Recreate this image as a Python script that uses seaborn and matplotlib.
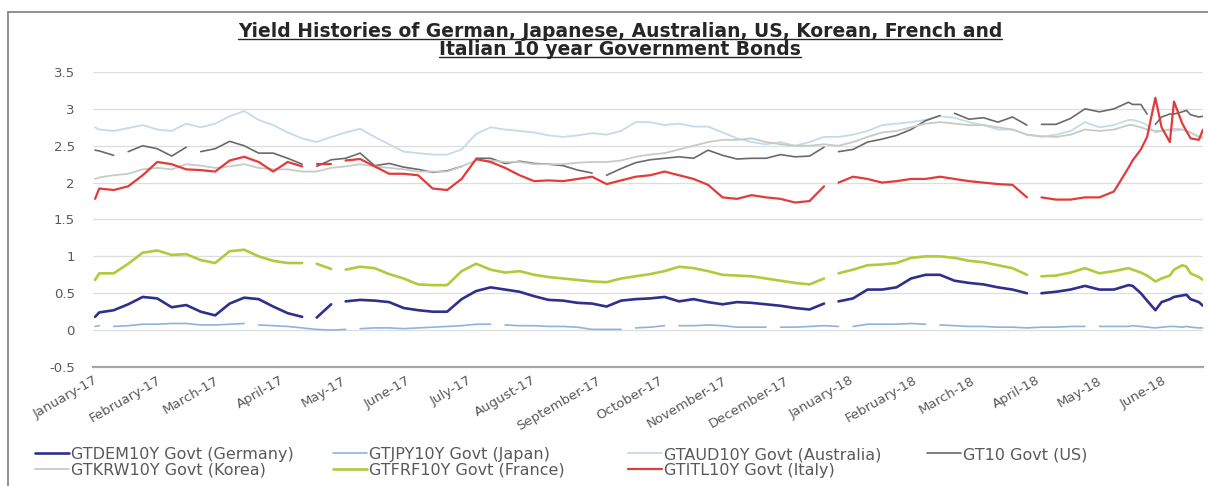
import numpy as np
import pandas as pd
import matplotlib
matplotlib.use("Agg")
import matplotlib.pyplot as plt
import matplotlib.dates as mdates
from matplotlib.lines import Line2D
import seaborn as sns

# ---------------------------------------------------------------------------
# Observation dates: first trading day, weekly Wednesdays, then a denser
# sampling through the late-May / June 2018 sell-off.
# ---------------------------------------------------------------------------
first_date = ["2017-01-02"]
weekly_dates = pd.date_range("2017-01-04", "2018-05-16", freq="W-WED")
late_dates = ["2018-05-18", "2018-05-22", "2018-05-25", "2018-05-29",
              "2018-06-01", "2018-06-05", "2018-06-07", "2018-06-11",
              "2018-06-13", "2018-06-15", "2018-06-19", "2018-06-21"]
dates = pd.DatetimeIndex(first_date).append(weekly_dates).append(pd.DatetimeIndex(late_dates))

# 10-year government bond yields (%), one value per date above.
germany = [0.18, 0.24, 0.27, 0.35, 0.45,
           0.43, 0.31, 0.34, 0.25,
           0.20, 0.36, 0.44, 0.42, 0.32,
           0.23, 0.18, 0.17, 0.35,
           0.39, 0.41, 0.40, 0.38, 0.30,
           0.27, 0.25, 0.25, 0.42,
           0.53, 0.58, 0.55, 0.52,
           0.46, 0.41, 0.40, 0.37, 0.36,
           0.32, 0.40, 0.42, 0.43,
           0.45, 0.39, 0.42, 0.38,
           0.35, 0.38, 0.37, 0.35, 0.33,
           0.30, 0.28, 0.36, 0.39,
           0.43, 0.55, 0.55, 0.58, 0.70,
           0.75, 0.75, 0.67, 0.64,
           0.62, 0.58, 0.55, 0.50,
           0.50, 0.52, 0.55, 0.60,
           0.55, 0.55, 0.61, 0.60, 0.50, 0.40, 0.27,
           0.38, 0.42, 0.45, 0.47, 0.48, 0.42, 0.38, 0.33]

japan = [0.05, 0.06, 0.05, 0.06, 0.08,
         0.08, 0.09, 0.09, 0.07,
         0.07, 0.08, 0.09, 0.07, 0.06,
         0.05, 0.03, 0.01, 0.00,
         0.01, 0.02, 0.03, 0.03, 0.02,
         0.03, 0.04, 0.05, 0.06,
         0.08, 0.08, 0.07, 0.06,
         0.06, 0.05, 0.05, 0.04, 0.01,
         0.01, 0.01, 0.03, 0.04,
         0.06, 0.06, 0.06, 0.07,
         0.06, 0.04, 0.04, 0.04, 0.04,
         0.04, 0.05, 0.06, 0.05,
         0.05, 0.08, 0.08, 0.08, 0.09,
         0.08, 0.07, 0.06, 0.05,
         0.05, 0.04, 0.04, 0.03,
         0.04, 0.04, 0.05, 0.05,
         0.05, 0.05, 0.05, 0.06, 0.05, 0.04, 0.03,
         0.04, 0.05, 0.05, 0.04, 0.05, 0.04, 0.03, 0.03]

australia = [2.75, 2.72, 2.70, 2.74, 2.78,
             2.72, 2.70, 2.80, 2.75,
             2.80, 2.90, 2.97, 2.85, 2.78,
             2.68, 2.60, 2.55, 2.62,
             2.68, 2.73, 2.62, 2.52, 2.42,
             2.40, 2.38, 2.38, 2.45,
             2.66, 2.75, 2.72, 2.70,
             2.68, 2.64, 2.62, 2.64, 2.67,
             2.65, 2.70, 2.82, 2.82,
             2.78, 2.80, 2.76, 2.76,
             2.68, 2.60, 2.55, 2.52, 2.55,
             2.50, 2.55, 2.62, 2.62,
             2.65, 2.70, 2.78, 2.80, 2.82,
             2.85, 2.90, 2.88, 2.82,
             2.78, 2.72, 2.72, 2.65,
             2.62, 2.65, 2.70, 2.82,
             2.75, 2.78, 2.85, 2.85, 2.82, 2.78, 2.68,
             2.70, 2.72, 2.70, 2.72, 2.70, 2.68, 2.62, 2.63]

us = [2.44, 2.43, 2.37, 2.42, 2.50,
      2.46, 2.36, 2.48, 2.42,
      2.46, 2.56, 2.50, 2.40, 2.40,
      2.33, 2.25, 2.22, 2.31,
      2.33, 2.40, 2.23, 2.26, 2.21,
      2.18, 2.14, 2.16, 2.22,
      2.33, 2.33, 2.26, 2.29,
      2.26, 2.25, 2.23, 2.17, 2.13,
      2.10, 2.19, 2.27, 2.31,
      2.33, 2.35, 2.33, 2.44,
      2.37, 2.32, 2.33, 2.33, 2.38,
      2.35, 2.36, 2.48, 2.42,
      2.45, 2.55, 2.59, 2.64, 2.72,
      2.84, 2.91, 2.94, 2.86,
      2.88, 2.82, 2.89, 2.78,
      2.79, 2.79, 2.87, 3.00,
      2.96, 3.00, 3.09, 3.06, 3.06, 2.93, 2.79,
      2.89, 2.93, 2.93, 2.96, 2.98, 2.92, 2.89, 2.90]

korea = [2.05, 2.07, 2.10, 2.12, 2.18,
         2.20, 2.18, 2.25, 2.23,
         2.20, 2.22, 2.25, 2.20, 2.18,
         2.18, 2.15, 2.15, 2.20,
         2.22, 2.25, 2.22, 2.20, 2.18,
         2.15, 2.15, 2.15, 2.22,
         2.30, 2.30, 2.28, 2.28,
         2.25, 2.25, 2.25, 2.27, 2.28,
         2.28, 2.30, 2.35, 2.38,
         2.40, 2.45, 2.50, 2.55,
         2.58, 2.58, 2.60, 2.55, 2.52,
         2.50, 2.50, 2.52, 2.50,
         2.55, 2.62, 2.68, 2.70, 2.75,
         2.80, 2.82, 2.80, 2.78,
         2.78, 2.75, 2.72, 2.65,
         2.63, 2.62, 2.65, 2.72,
         2.70, 2.72, 2.78, 2.78, 2.75, 2.72, 2.70,
         2.70, 2.72, 2.73, 2.72, 2.70, 2.68, 2.62, 2.60]

france = [0.68, 0.77, 0.77, 0.90, 1.05,
          1.08, 1.02, 1.03, 0.95,
          0.91, 1.07, 1.09, 1.00, 0.94,
          0.91, 0.91, 0.90, 0.83,
          0.82, 0.86, 0.84, 0.76, 0.70,
          0.62, 0.61, 0.61, 0.80,
          0.90, 0.82, 0.78, 0.80,
          0.75, 0.72, 0.70, 0.68, 0.66,
          0.65, 0.70, 0.73, 0.76,
          0.80, 0.86, 0.84, 0.80,
          0.75, 0.74, 0.73, 0.70, 0.67,
          0.64, 0.62, 0.70, 0.77,
          0.82, 0.88, 0.89, 0.91, 0.98,
          1.00, 1.00, 0.98, 0.94,
          0.92, 0.88, 0.84, 0.75,
          0.73, 0.74, 0.78, 0.84,
          0.77, 0.80, 0.84, 0.82, 0.78, 0.74, 0.66,
          0.70, 0.74, 0.82, 0.88, 0.86, 0.77, 0.72, 0.68]

italy = [1.78, 1.92, 1.90, 1.95, 2.10,
         2.28, 2.25, 2.18, 2.17,
         2.15, 2.30, 2.35, 2.28, 2.15,
         2.28, 2.22, 2.25, 2.25,
         2.30, 2.32, 2.22, 2.12, 2.12,
         2.10, 1.92, 1.90, 2.05,
         2.32, 2.28, 2.20, 2.10,
         2.02, 2.03, 2.02, 2.05, 2.08,
         1.98, 2.03, 2.08, 2.10,
         2.15, 2.10, 2.05, 1.97,
         1.80, 1.78, 1.83, 1.80, 1.78,
         1.73, 1.75, 1.95, 2.00,
         2.08, 2.05, 2.00, 2.02, 2.05,
         2.05, 2.08, 2.05, 2.02,
         2.00, 1.98, 1.97, 1.80,
         1.80, 1.77, 1.77, 1.80,
         1.80, 1.88, 2.20, 2.30, 2.45, 2.62, 3.15,
         2.75, 2.55, 3.10, 2.80, 2.70, 2.60, 2.58, 2.72]

# Market holidays: no fixing, so the line is broken there.
euro_holidays = ["2017-04-14", "2017-05-01", "2017-12-25", "2018-03-30"]
us_holidays = ["2017-01-16", "2017-02-20", "2017-04-14", "2017-07-04",
               "2017-09-04", "2017-12-25", "2018-02-19", "2018-03-30",
               "2018-05-28"]
japan_holidays = ["2017-01-09", "2017-03-20", "2017-05-04", "2017-07-17",
                  "2017-09-18", "2017-10-09", "2017-11-23", "2018-01-01",
                  "2018-02-12", "2018-04-30"]

series_names = ["GTDEM10Y Govt (Germany)", "GTJPY10Y Govt (Japan)",
                "GTAUD10Y Govt (Australia)", "GT10 Govt (US)",
                "GTKRW10Y Govt (Korea)", "GTFRF10Y Govt (France)",
                "GTITL10Y Govt (Italy)"]
series_values = [germany, japan, australia, us, korea, france, italy]
series_breaks = [euro_holidays, japan_holidays, [], us_holidays, [],
                 euro_holidays, euro_holidays]

colors = ["#2f2f8c", "#8fb3da", "#c4dbea", "#6a6a6a",
          "#c6cbc6", "#afcb3c", "#e23b3b"]
widths = [1.9, 1.2, 1.3, 1.2, 1.3, 1.9, 1.6]

# Long table, one contiguous segment id per unbroken stretch of each line
frames = []
for name, vals, breaks in zip(series_names, series_values, series_breaks):
    s = pd.Series(vals, index=dates, dtype=float)
    if breaks:
        s = pd.concat([s, pd.Series(np.nan, index=pd.DatetimeIndex(breaks))]).sort_index()
    seg = s.isna().cumsum()
    frames.append(pd.DataFrame({"date": s.index, "yield": s.values,
                                "segment": seg.values, "series": name}).dropna())
long_df = pd.concat(frames, ignore_index=True)

# ---------------------------------------------------------------------------
sns.set_style("white")
plt.rcParams["font.family"] = ["DejaVu Sans"]

W, H = 1208, 486
fig = plt.figure(figsize=(W / 100, H / 100), dpi=100)
ax = fig.add_axes([93 / W, (H - 367) / H, 1110 / W, 295 / H])

sns.lineplot(data=long_df, x="date", y="yield", hue="series", size="series",
             hue_order=series_names, size_order=series_names,
             palette=dict(zip(series_names, colors)),
             sizes=dict(zip(series_names, widths)),
             units="segment", estimator=None, ax=ax, legend=True)

handles, labels = ax.get_legend_handles_labels()
by_label = dict(zip(labels, handles))
ax.get_legend().remove()

ax.set_xlim(pd.Timestamp("2017-01-01"), pd.Timestamp("2018-06-21"))
ax.set_ylim(-0.5, 3.5)
ax.set_yticks(np.arange(-0.5, 3.51, 0.5))
ax.yaxis.set_major_formatter(plt.FuncFormatter(lambda v, p: f"{v:g}"))
ax.set_xlabel("")
ax.set_ylabel("")

ax.xaxis.set_major_locator(mdates.MonthLocator())
ax.xaxis.set_major_formatter(mdates.DateFormatter("%B-%y"))

ax.grid(axis="y", color="#dedede", lw=0.9)
ax.grid(axis="x", visible=False)
for side in ["top", "right", "left"]:
    ax.spines[side].set_visible(False)
ax.spines["bottom"].set_color("#a6a6a6")
ax.spines["bottom"].set_linewidth(1.6)

ax.tick_params(axis="y", length=0, pad=13, labelsize=9.5, labelcolor="#595959")
ax.tick_params(axis="x", length=3, width=1.4, color="#595959", direction="out",
               pad=2, labelsize=9.5, labelcolor="#595959")
plt.setp(ax.get_xticklabels(), rotation=30, ha="right", rotation_mode="anchor")

# Legend: four columns on two rows underneath the axis
legend_cols = [(35, ["GTDEM10Y Govt (Germany)", "GTKRW10Y Govt (Korea)"]),
               (333, ["GTJPY10Y Govt (Japan)", "GTFRF10Y Govt (France)"]),
               (628, ["GTAUD10Y Govt (Australia)", "GTITL10Y Govt (Italy)"]),
               (927, ["GT10 Govt (US)"])]
for x0, names in legend_cols:
    fig.legend([by_label[n] for n in names], names, loc="upper left",
               bbox_to_anchor=(x0 / W, 1 - 447 / H), frameon=False,
               borderaxespad=0, borderpad=0, handlelength=2.15,
               handletextpad=0.12, labelspacing=0.05, fontsize=11.5,
               labelcolor="#595959")

# Title, two centred underlined lines
title_lines = ["Yield Histories of German, Japanese, Australian, US, Korean, French and",
               "Italian 10 year Government Bonds"]
title_texts = []
for line, base in zip(title_lines, [37, 55]):
    t = fig.text(620 / W, 1 - base / H, line, ha="center", va="baseline",
                 fontsize=13.5, fontweight="bold", color="#262626")
    title_texts.append((t, base))

fig.canvas.draw()
for t, base in title_texts:
    bb = t.get_window_extent()
    yy = 1 - (base + 2.5) / H
    fig.add_artist(Line2D([bb.x0 / W, bb.x1 / W], [yy, yy], transform=fig.transFigure,
                          color="#262626", lw=1.0))

# Outer frame (top and left edges visible)
fig.add_artist(Line2D([8 / W, 1.0], [1 - 12 / H, 1 - 12 / H], transform=fig.transFigure,
                      color="#7f7f7f", lw=1.2))
fig.add_artist(Line2D([8 / W, 8 / W], [0, 1 - 12 / H], transform=fig.transFigure,
                      color="#7f7f7f", lw=1.2))

fig.savefig("out.png", dpi=100)
